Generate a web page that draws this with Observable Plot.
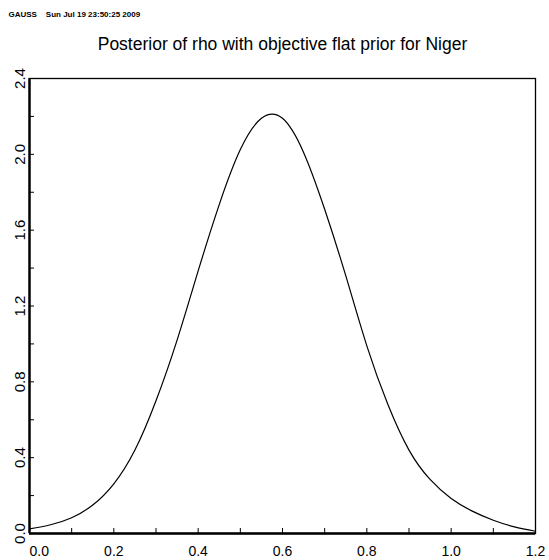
<!DOCTYPE html>
<html><head><meta charset="utf-8">
<script src="https://cdn.jsdelivr.net/npm/d3@7"></script>
<script src="https://cdn.jsdelivr.net/npm/@observablehq/plot@0.6"></script>
<style>body{margin:0;background:#fff} svg{display:block}</style>
</head><body><div id="chart"></div>
<script>
const rho = [0.00, 0.05, 0.10, 0.15, 0.20, 0.25, 0.30, 0.35, 0.40, 0.45, 0.50, 0.55, 0.60, 0.65, 0.70, 0.75, 0.80, 0.85, 0.90, 0.95, 1.00, 1.05, 1.10, 1.15, 1.20];
const density = [0.024, 0.046, 0.083, 0.150, 0.262, 0.440, 0.700, 1.020, 1.385, 1.735, 2.025, 2.190, 2.190, 2.010, 1.710, 1.360, 0.990, 0.680, 0.440, 0.285, 0.185, 0.118, 0.070, 0.035, 0.012];
const xMajorTicks = [0.0, 0.2, 0.4, 0.6, 0.8, 1.0, 1.2];
const xMinorTicks = [0.1, 0.3, 0.5, 0.7, 0.9, 1.1];
const yMajorTicks = [0.0, 0.4, 0.8, 1.2, 1.6, 2.0, 2.4];
const yMinorTicks = [0.2, 0.6, 1.0, 1.4, 1.8, 2.2];
const headerText = "GAUSS    Sun Jul 19 23:50:25 2009";
const titleText = "Posterior of rho with objective flat prior for Niger";

const data = rho.map((r, i) => ({rho: r, density: density[i]}));
const W = 549, H = 560, mL = 29, mR = 14, mT = 78, mB = 27;
const fw = W - mL - mR, fh = H - mT - mB;

const chart = Plot.plot({
  width: W, height: H,
  marginLeft: mL, marginRight: mR, marginTop: mT, marginBottom: mB,
  style: {fontFamily: "'Liberation Sans', Arial, sans-serif", background: "#fff", color: "#000"},
  x: {domain: [0, 1.2], axis: null},
  y: {domain: [0, 2.4], axis: null},
  marks: [
    Plot.frame({stroke: "#000", strokeWidth: 1.3}),
    Plot.ruleX([0], {stroke: "#000", strokeWidth: 2.4}),
    Plot.ruleY([0], {stroke: "#000", strokeWidth: 2.4}),
    Plot.tickX(xMajorTicks.concat(xMinorTicks), {x: d => d, insetTop: fh - 5, stroke: "#000", strokeWidth: 1}),
    Plot.tickY(yMajorTicks.concat(yMinorTicks), {y: d => d, insetRight: fw - 5, stroke: "#000", strokeWidth: 1}),
    Plot.line(data, {x: "rho", y: "density", curve: "natural", stroke: "#000", strokeWidth: 1.2}),
    Plot.text(xMajorTicks.slice(0, 1), {x: d => d, text: d => d.toFixed(1), frameAnchor: "bottom", textAnchor: "start", lineAnchor: "top", dy: 13, fontSize: 14, fill: "#000"}),
    Plot.text(xMajorTicks.slice(1), {x: d => d, text: d => d.toFixed(1), frameAnchor: "bottom", textAnchor: "middle", lineAnchor: "top", dy: 13, fontSize: 14, fill: "#000"}),
    Plot.text(yMajorTicks, {y: d => d, text: d => d.toFixed(1), frameAnchor: "left", rotate: -90, textAnchor: "middle", lineAnchor: "bottom", dx: -5, fontSize: 15, fill: "#000"}),
    Plot.text([headerText], {text: d => d, frameAnchor: "top-left", textAnchor: "start", lineAnchor: "bottom", dx: -21, dy: -62, fontSize: 8, fontWeight: "bold", fill: "#000"}),
    Plot.text([titleText], {text: d => d, frameAnchor: "top", textAnchor: "middle", lineAnchor: "bottom", dy: -29, fontSize: 17.5, fill: "#000"})
  ]
});
document.getElementById("chart").appendChild(chart);
</script>
</body></html>
